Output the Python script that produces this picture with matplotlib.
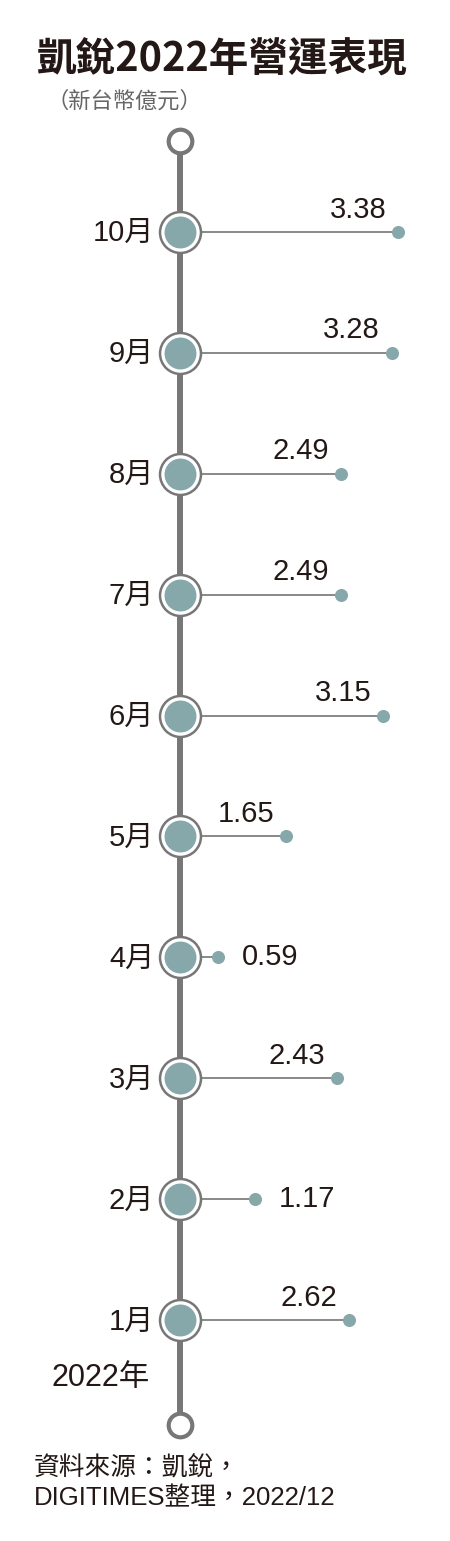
import matplotlib
matplotlib.use('Agg')
from matplotlib import pyplot as plt

plt.rcParams['font.family'] = ['Noto Sans CJK TC', 'DejaVu Sans']
NUM_FONT = ['Liberation Sans', 'Noto Sans CJK TC']

months = ['1月', '2月', '3月', '4月', '5月', '6月', '7月', '8月', '9月', '10月']
revenue = [2.62, 1.17, 2.43, 0.59, 1.65, 3.15, 2.49, 2.49, 3.28, 3.38]
value_labels = ['2.62', '1.17', '2.43', '0.59', '1.65', '3.15', '2.49', '2.49', '3.28', '3.38']
label_right = [False, True, False, True, False, False, False, False, False, False]

TEAL = '#86a8ab'
GRAY = '#777777'
TEXT = '#231815'

fig = plt.figure(figsize=(4.5, 15.41), dpi=100)
ax = fig.add_axes([0, 0, 1, 1])
ax.set_xlim(-180 / 64.5, 270 / 64.5)
ax.set_ylim(1 - 221 / 120.9, 1 + 1320 / 120.9)
ax.axis('off')

ys = list(range(1, len(months) + 1))
top_y = 1 + (1320 - 141) / 120.9
bot_y = 1 - (1425 - 1320) / 120.9

# vertical timeline
ax.plot([0, 0], [bot_y, top_y], color=GRAY, lw=4.3, zorder=1, solid_capstyle='butt')
ax.plot([0, 0], [top_y, bot_y], 'o', ms=17, mfc='white', mec=GRAY, mew=3, zorder=2)

for y, v, lab, right, m in zip(ys, revenue, value_labels, label_right, months):
    ax.plot([0, v], [y, y], color='#888888', lw=1.4, zorder=1)
    ax.plot(v, y, 'o', ms=9.4, color=TEAL, mec='none', zorder=2)
    ax.plot(0, y, 'o', ms=29.5, mfc='white', mec=GRAY, mew=1.8, zorder=3)
    ax.plot(0, y, 'o', ms=23, color=TEAL, mec='none', zorder=4)
    if right:
        ax.annotate(lab, (v, y), xytext=(17, 0), textcoords='offset points',
                    ha='left', va='center', fontsize=21, color=TEXT, family=NUM_FONT)
    else:
        ax.annotate(lab, (v, y), xytext=(-8.5, 6), textcoords='offset points',
                    ha='right', va='bottom', fontsize=21, color=TEXT, family=NUM_FONT)
    ax.annotate(m, (0, y), xytext=(-18.5, -1), textcoords='offset points',
                ha='right', va='center', fontsize=21, color=TEXT, family=NUM_FONT)

ax.annotate('2022年', (0, 1 - 58 / 120.9), xytext=(-22, 0), textcoords='offset points',
            ha='right', va='center', fontsize=22, color=TEXT, family=NUM_FONT)

H = 1541
fig.text(37 / 450, 1 - 60 / H, '凱銳2022年營運表現', fontsize=28.5, fontweight='bold',
         color=TEXT, ha='left', va='center')
fig.text(47 / 450, 1 - 101 / H, '（新台幣億元）', fontsize=16, color='#666666',
         ha='left', va='center')
fig.text(34 / 450, 1 - 1467 / H, '資料來源：凱銳，', fontsize=18.5, color=TEXT,
         ha='left', va='center', family=NUM_FONT)
fig.text(34 / 450, 1 - 1498 / H, 'DIGITIMES整理，2022/12', fontsize=18.5, color=TEXT,
         ha='left', va='center', family=NUM_FONT)

fig.savefig('out.png', dpi=100, facecolor='white')
